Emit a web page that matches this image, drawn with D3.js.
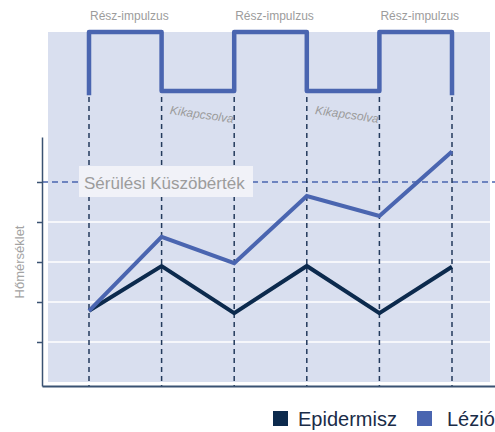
<!DOCTYPE html>
<html>
<head>
<meta charset="utf-8">
<script src="https://cdn.jsdelivr.net/npm/d3@7"></script>
<style>
  html, body { margin: 0; padding: 0; background: #fff; }
  svg { display: block; font-family: "Liberation Sans", Arial, sans-serif; }
</style>
</head>
<body>
<script>
// Data
const steps = [0, 1, 2, 3, 4, 5];
const pulseOn = [1, 0, 1, 0, 1];            // state between consecutive steps
const pulseLabels = ["Rész-impulzus", "Kikapcsolva"];
const epidermisz = [1.78, 2.9, 1.72, 2.9, 1.72, 2.88];
const lezio = [1.78, 3.63, 2.97, 4.65, 4.15, 5.76];
const threshold = 5;
const thresholdLabel = "Sérülési Küszöbérték";
const yTicks = [1, 2, 3, 4, 5];
const seriesNames = ["Epidermisz", "Lézió"];
const seriesColors = ["#0c2a4d", "#4a65b0"];

const width = 495, height = 432;

const svg = d3.select("body").append("svg")
  .attr("width", width)
  .attr("height", height);

// scales
const x = d3.scaleLinear().domain([0, 5]).range([89, 452]);
const y = d3.scaleLinear().domain([-0.1, 6.125]).range([386, 137]);
const yPulse = d3.scaleLinear().domain([0, 1]).range([91, 32]);

// background panel
svg.append("rect")
  .attr("x", 48).attr("y", 32)
  .attr("width", 442).attr("height", y(0) - 32)
  .attr("fill", "#d9dfef");

// white gridlines
svg.append("g")
  .selectAll("line")
  .data(yTicks.filter(d => d !== threshold))
  .join("line")
  .attr("x1", 48).attr("x2", 490)
  .attr("y1", d => y(d)).attr("y2", d => y(d))
  .attr("stroke", "#fff")
  .attr("stroke-width", 1.5);

// threshold line
svg.append("line")
  .attr("x1", 42).attr("x2", width)
  .attr("y1", y(threshold)).attr("y2", y(threshold))
  .attr("stroke", "#4a65b0")
  .attr("stroke-width", 1.5)
  .attr("stroke-dasharray", "6,4");

// vertical dashed step lines
svg.append("g")
  .selectAll("line")
  .data(steps)
  .join("line")
  .attr("x1", d => x(d)).attr("x2", d => x(d))
  .attr("y1", 97).attr("y2", y(-0.1))
  .attr("stroke", "#233a5c")
  .attr("stroke-width", 1.5)
  .attr("stroke-dasharray", "5,4");

// threshold label box
const lbl = svg.append("g");
lbl.append("rect")
  .attr("x", 79).attr("y", 166)
  .attr("width", 174).attr("height", 31)
  .attr("fill", "#f1f2f8");
lbl.append("text")
  .attr("x", 84).attr("y", 188.5)
  .attr("font-size", 17)
  .attr("fill", "#9c9c9c")
  .text(thresholdLabel);

// pulse waveform
const pulsePts = [[0, -0.07], [0, pulseOn[0]]]
  .concat(pulseOn.slice(1).map((d, i) => [i + 1, d]))
  .concat([[5, -0.07]]);
svg.append("path")
  .datum(pulsePts)
  .attr("d", d3.line().x(d => x(d[0])).y(d => yPulse(d[1])).curve(d3.curveStepAfter))
  .attr("fill", "none")
  .attr("stroke", "#4a65b0")
  .attr("stroke-width", 4.5)
  .attr("stroke-linejoin", "round");

// pulse labels
pulseOn.forEach((on, i) => {
  if (on) {
    svg.append("text")
      .attr("x", x(i) + 1).attr("y", 20)
      .attr("font-size", 12)
      .attr("fill", "#9c9c9c")
      .text(pulseLabels[0]);
  } else {
    svg.append("text")
      .attr("transform", `translate(${x(i) + 8},114) rotate(8)`)
      .attr("font-size", 12)
      .attr("font-style", "italic")
      .attr("fill", "#9c9c9c")
      .text(pulseLabels[1]);
  }
});

// series lines
const line = d3.line().x((d, i) => x(steps[i])).y(d => y(d));
[epidermisz, lezio].forEach((s, k) => {
  svg.append("path")
    .datum(s)
    .attr("d", line)
    .attr("fill", "none")
    .attr("stroke", seriesColors[k])
    .attr("stroke-width", 4)
    .attr("stroke-linejoin", "miter");
});

// axes
const yAxis = svg.append("g")
  .attr("transform", "translate(42,0)")
  .call(d3.axisLeft(y).tickValues(yTicks).tickSize(5).tickSizeOuter(0).tickFormat(""));
yAxis.selectAll("path, line").attr("stroke", "#3a5272").attr("stroke-width", 1.5);

const xb = d3.scaleLinear().domain([0, 1]).range([42, width]);
const xAxis = svg.append("g")
  .attr("transform", `translate(0,${y(-0.1)})`)
  .call(d3.axisBottom(xb).tickValues([]).tickSizeOuter(0));
xAxis.selectAll("path").attr("stroke", "#3a5272").attr("stroke-width", 2);

// y axis title
svg.append("text")
  .attr("transform", "translate(24,262) rotate(-90)")
  .attr("text-anchor", "middle")
  .attr("font-size", 13)
  .attr("fill", "#a3a3a3")
  .text("Hőmérséklet");

// legend
const legend = svg.append("g").attr("transform", "translate(273,411)");
const legendX = [0, 144];
const legendTextX = [25, 30];
seriesNames.forEach((name, k) => {
  const g = legend.append("g").attr("transform", `translate(${legendX[k]},0)`);
  g.append("rect").attr("width", 15).attr("height", 15).attr("fill", seriesColors[k]);
  g.append("text")
    .attr("x", legendTextX[k]).attr("y", 15)
    .attr("font-size", 20)
    .attr("fill", "#1a2c48")
    .text(name);
});
</script>
</body>
</html>
